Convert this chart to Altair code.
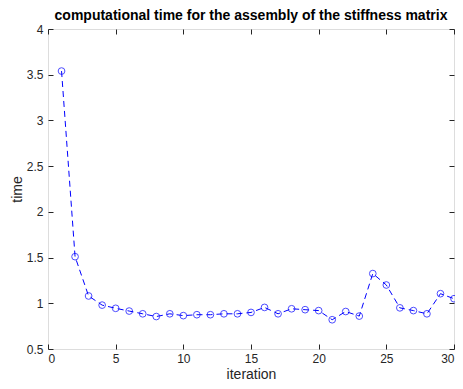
import altair as alt
import pandas as pd

iterations = list(range(1, 31))
times = [3.54, 1.51, 1.08, 0.98, 0.945, 0.915, 0.885, 0.855, 0.885, 0.865,
         0.875, 0.875, 0.885, 0.885, 0.90, 0.955, 0.885, 0.94, 0.93, 0.92,
         0.82, 0.91, 0.86, 1.325, 1.20, 0.95, 0.92, 0.885, 1.105, 1.05]
x_ticks = [0, 5, 10, 15, 20, 25, 30]
y_ticks = [0.5, 1, 1.5, 2, 2.5, 3, 3.5, 4]
title_text = "computational time for the assembly of the stiffness matrix"

df = pd.DataFrame({"iteration": iterations, "time": times})

FONT = "Liberation Sans"
AXC = "#262626"
xs = alt.Scale(domain=[0, 30], nice=False, zero=False)
ys = alt.Scale(domain=[0.5, 4], nice=False, zero=False)

base = alt.Chart(df)

main_line = base.mark_line(color="#0000ff", strokeWidth=1, strokeDash=[6, 4]).encode(
    x=alt.X("iteration:Q", scale=xs,
            axis=alt.Axis(orient="bottom", values=x_ticks, ticks=False, domain=False, grid=False,
                          format="~g",
                          title="iteration", titleFontSize=14, titleFontWeight="normal",
                          titleColor=AXC, titlePadding=3, labelFontSize=12, labelColor=AXC,
                          labelPadding=4, labelFont=FONT, titleFont=FONT)),
    y=alt.Y("time:Q", scale=ys,
            axis=alt.Axis(orient="left", values=y_ticks, ticks=False, domain=False, grid=False,
                          format="~g",
                          title="time", titleFontSize=14, titleFontWeight="normal",
                          titleColor=AXC, titlePadding=2, labelFontSize=12, labelColor=AXC,
                          labelPadding=5, labelFont=FONT, titleFont=FONT)),
)

points = base.mark_point(shape="circle", filled=False, color="#0000ff", size=45, strokeWidth=1).encode(
    x=alt.X("iteration:Q", scale=xs, axis=None),
    y=alt.Y("time:Q", scale=ys, axis=None),
)

ticks_bl = base.mark_point(opacity=0).encode(
    x=alt.X("iteration:Q", scale=xs,
            axis=alt.Axis(orient="bottom", values=x_ticks, offset=-5, tickSize=5, labels=False,
                          domain=False, grid=False, title=None, tickColor=AXC)),
    y=alt.Y("time:Q", scale=ys,
            axis=alt.Axis(orient="left", values=y_ticks, offset=-5, tickSize=5, labels=False,
                          domain=False, grid=False, title=None, tickColor=AXC)),
)

ticks_tr = base.mark_point(opacity=0).encode(
    x=alt.X("iteration:Q", scale=xs,
            axis=alt.Axis(orient="top", values=x_ticks, offset=-5, tickSize=5, labels=False,
                          domain=False, grid=False, title=None, tickColor=AXC)),
    y=alt.Y("time:Q", scale=ys,
            axis=alt.Axis(orient="right", values=y_ticks, offset=-5, tickSize=5, labels=False,
                          domain=False, grid=False, title=None, tickColor=AXC)),
)

chart = alt.layer(main_line, points, ticks_bl, ticks_tr).resolve_scale(
    x="independent", y="independent"
).resolve_axis(
    x="independent", y="independent"
).properties(
    width=406, height=320,
    title=alt.TitleParams(title_text, fontSize=14, fontWeight="bold", font=FONT,
                          color="#000000", offset=0, anchor="middle", frame="group"),
    autosize=alt.AutoSizeParams(type="none"),
    padding={"left": 40, "top": 21, "right": 1, "bottom": 32},
).configure_view(stroke="#888888", strokeWidth=1).configure(background="white")

chart.save("out.html", embed_options={"renderer": "svg", "actions": False})
